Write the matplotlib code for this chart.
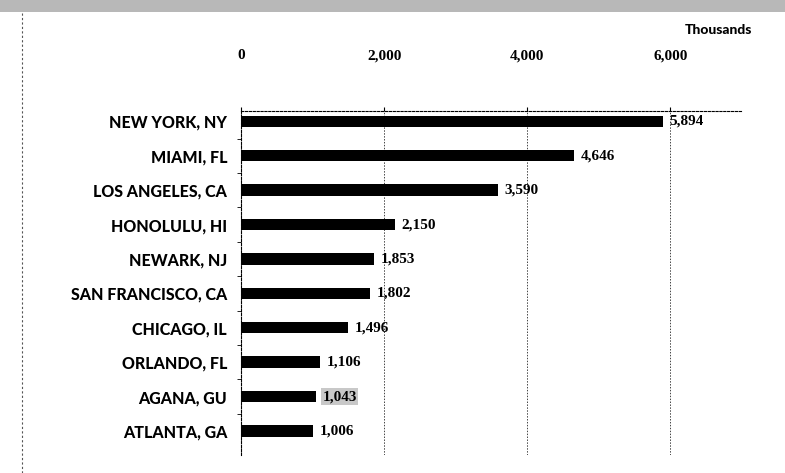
import matplotlib
matplotlib.use('Agg')
import matplotlib.pyplot as plt
from matplotlib.patches import Rectangle

cities = ['NEW YORK, NY', 'MIAMI, FL', 'LOS ANGELES, CA', 'HONOLULU, HI',
          'NEWARK, NJ', 'SAN FRANCISCO, CA', 'CHICAGO, IL', 'ORLANDO, FL',
          'AGANA, GU', 'ATLANTA, GA']
passengers = [5894, 4646, 3590, 2150, 1853, 1802, 1496, 1106, 1043, 1006]
x_ticks = [0, 2000, 4000, 6000]

fig = plt.figure(figsize=(7.85, 4.73), dpi=100)

# top grey band and dashed left border of the scanned page
fig.patches.append(Rectangle((0, 1 - 12 / 473), 1, 12 / 473, transform=fig.transFigure,
                             facecolor='#b8b8b8', edgecolor='none', hatch='////'))
fig.lines.append(plt.Line2D([22 / 785, 22 / 785], [0, 1 - 12 / 473], transform=fig.transFigure,
                            color='#555555', lw=0.8, ls=(0, (2, 2))))

ax = fig.add_axes([241 / 785, 1 - 455 / 473, (742 - 241) / 785, (455 - 111) / 473])

ypos = list(range(len(cities)))
ax.barh(ypos, passengers, height=0.33, color='black', zorder=3)

ax.set_xlim(0, 7000)
ax.set_ylim(9.7, -0.3)
ax.xaxis.tick_top()
ax.set_xticks(x_ticks)
ax.set_xticklabels([f'{v:,}' for v in x_ticks], family='Liberation Serif',
                   fontweight='bold', fontsize=11)
ax.tick_params(axis='x', length=3, pad=32)
ax.set_yticks(ypos)
ax.set_yticklabels(cities, family='Lato', fontweight='black', fontsize=11.5)
ax.tick_params(axis='y', length=0, pad=10)
ax.set_yticks([i - 0.5 for i in range(1, len(cities))], minor=True)
ax.tick_params(axis='y', which='minor', length=3)

ax.grid(axis='x', color='#444444', lw=0.7, ls=(0, (1.5, 1.5)), zorder=0)
for s in ['right', 'bottom']:
    ax.spines[s].set_visible(False)
ax.spines['top'].set_linestyle((0, (2, 1.5)))
ax.spines['top'].set_linewidth(0.8)
ax.spines['left'].set_linestyle((0, (2, 1.5)))
ax.spines['left'].set_linewidth(0.8)

for y, v, name in zip(ypos, passengers, cities):
    box = None
    if name == 'AGANA, GU':
        box = dict(boxstyle='square,pad=0.1', facecolor='#c8c8c8', edgecolor='none')
    ax.annotate(f'{v:,}', (v, y), xytext=(5, 0), textcoords='offset points',
                va='center', ha='left', family='Liberation Serif', fontweight='bold',
                fontsize=11, bbox=box, zorder=4)

fig.text(752 / 785, 1 - 30 / 473, 'Thousands', ha='right', va='center',
         family='Lato', fontweight='black', fontsize=10)

fig.savefig('out.png', dpi=100)
